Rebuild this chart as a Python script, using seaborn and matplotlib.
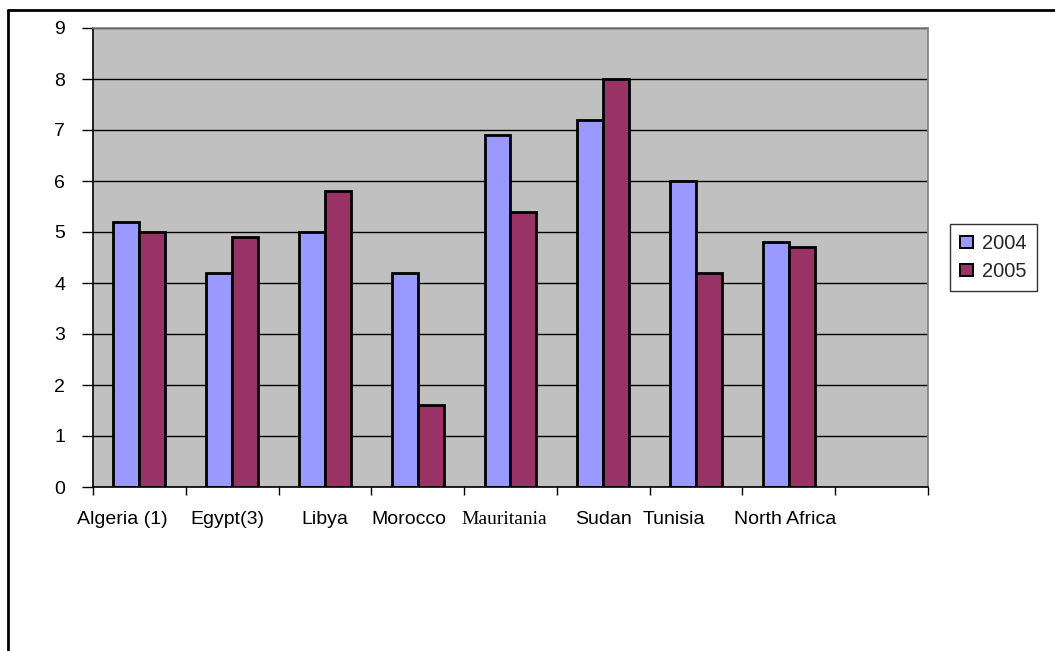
import numpy as np
import pandas as pd
import matplotlib
matplotlib.use("Agg")
import matplotlib.pyplot as plt
import matplotlib.transforms as mtransforms
from matplotlib.lines import Line2D
import seaborn as sns

# Unemployment-style rates by country, two survey years
countries = ["Algeria (1)", "Egypt(3)", "Libya", "Morocco", "Mauritania",
             "Sudan", "Tunisia", "North Africa"]
values_2004 = [5.2, 4.2, 5.0, 4.2, 6.9, 7.2, 6.0, 4.8]
values_2005 = [5.0, 4.9, 5.8, 1.6, 5.4, 8.0, 4.2, 4.7]
years = ["2004", "2005"]
y_ticks = list(range(0, 10))

# Horizontal nudges of the category captions (in category units)
label_shift = [-0.18, -0.05, 0.0, -0.10, -0.07, 0.0, -0.24, -0.04]

df = pd.DataFrame({
    "country": countries * 2,
    "year": [years[0]] * len(countries) + [years[1]] * len(countries),
    "value": values_2004 + values_2005,
})

sns.set_theme(style="white")
plt.rcParams["font.family"] = ["Liberation Sans", "DejaVu Sans"]

W, H = 1055, 651
fig = plt.figure(figsize=(W / 100, H / 100), dpi=100)
fig.patch.set_facecolor("white")
ax = fig.add_axes([93 / W, 1 - 487 / H, (928 - 93) / W, (487 - 28) / H])
ax.set_facecolor("#C0C0C0")

blue, maroon = "#9999FF", "#993366"
sns.barplot(data=df, x="country", y="value", hue="year", order=countries,
            hue_order=years, palette=[blue, maroon], width=0.56,
            saturation=1, edgecolor="black", linewidth=2.0, ax=ax)

ax.set_xlim(-0.5, len(countries) + 0.5)
ax.set_ylim(0, 9)
ax.set_yticks(y_ticks)
ax.set_yticklabels([str(t) for t in y_ticks], fontsize=14)
ax.set_xticks(np.arange(-0.5, len(countries) + 1, 1.0))
ax.set_xticklabels([])
ax.set_xlabel("")
ax.set_ylabel("")

ax.yaxis.grid(True, color="black", linewidth=1.0)
ax.xaxis.grid(False)
ax.set_axisbelow(True)

ax.tick_params(axis="y", which="major", left=True, length=8, width=1,
               color="black", pad=12, labelcolor="black")
ax.tick_params(axis="x", which="major", bottom=True, length=6, width=1,
               color="black")

for side in ("left", "bottom"):
    ax.spines[side].set_color("black")
    ax.spines[side].set_linewidth(1.2)
for side in ("top", "right"):
    ax.spines[side].set_color("#808080")
    ax.spines[side].set_linewidth(1.2)

# Category captions below the axis
trans = mtransforms.blended_transform_factory(ax.transData, ax.transAxes)
for i, (name, dx) in enumerate(zip(countries, label_shift)):
    kw = dict(fontsize=14, color="black", ha="center", va="center",
              transform=trans)
    if name == "Mauritania":
        kw["family"] = ["Liberation Serif", "DejaVu Serif"]
    ax.text(i + dx, -32 / (487 - 28), name, **kw)

# Legend on the right
old = ax.get_legend()
if old is not None:
    old.remove()
handles = [plt.Rectangle((0, 0), 1, 1, facecolor=c, edgecolor="black",
                         linewidth=1.4) for c in (blue, maroon)]
leg = fig.legend(handles, years, loc="upper left",
                 bbox_to_anchor=(950 / W, 1 - 224 / H),
                 bbox_transform=fig.transFigure, fontsize=14.5,
                 frameon=True, fancybox=False, shadow=False,
                 handlelength=0.65, handleheight=0.5, handletextpad=0.45,
                 labelspacing=0.45, borderpad=0.5, borderaxespad=0)
leg.get_frame().set_edgecolor("black")
leg.get_frame().set_linewidth(1.0)
leg.get_frame().set_facecolor("white")

# Outer chart border (top and left edges)
fig.add_artist(Line2D([8 / W, 1.0], [1 - 10 / H, 1 - 10 / H],
                      transform=fig.transFigure, color="black", linewidth=2))
fig.add_artist(Line2D([8 / W, 8 / W], [0.0, 1 - 10 / H],
                      transform=fig.transFigure, color="black", linewidth=2))

fig.savefig("out.png", dpi=100, facecolor="white")
